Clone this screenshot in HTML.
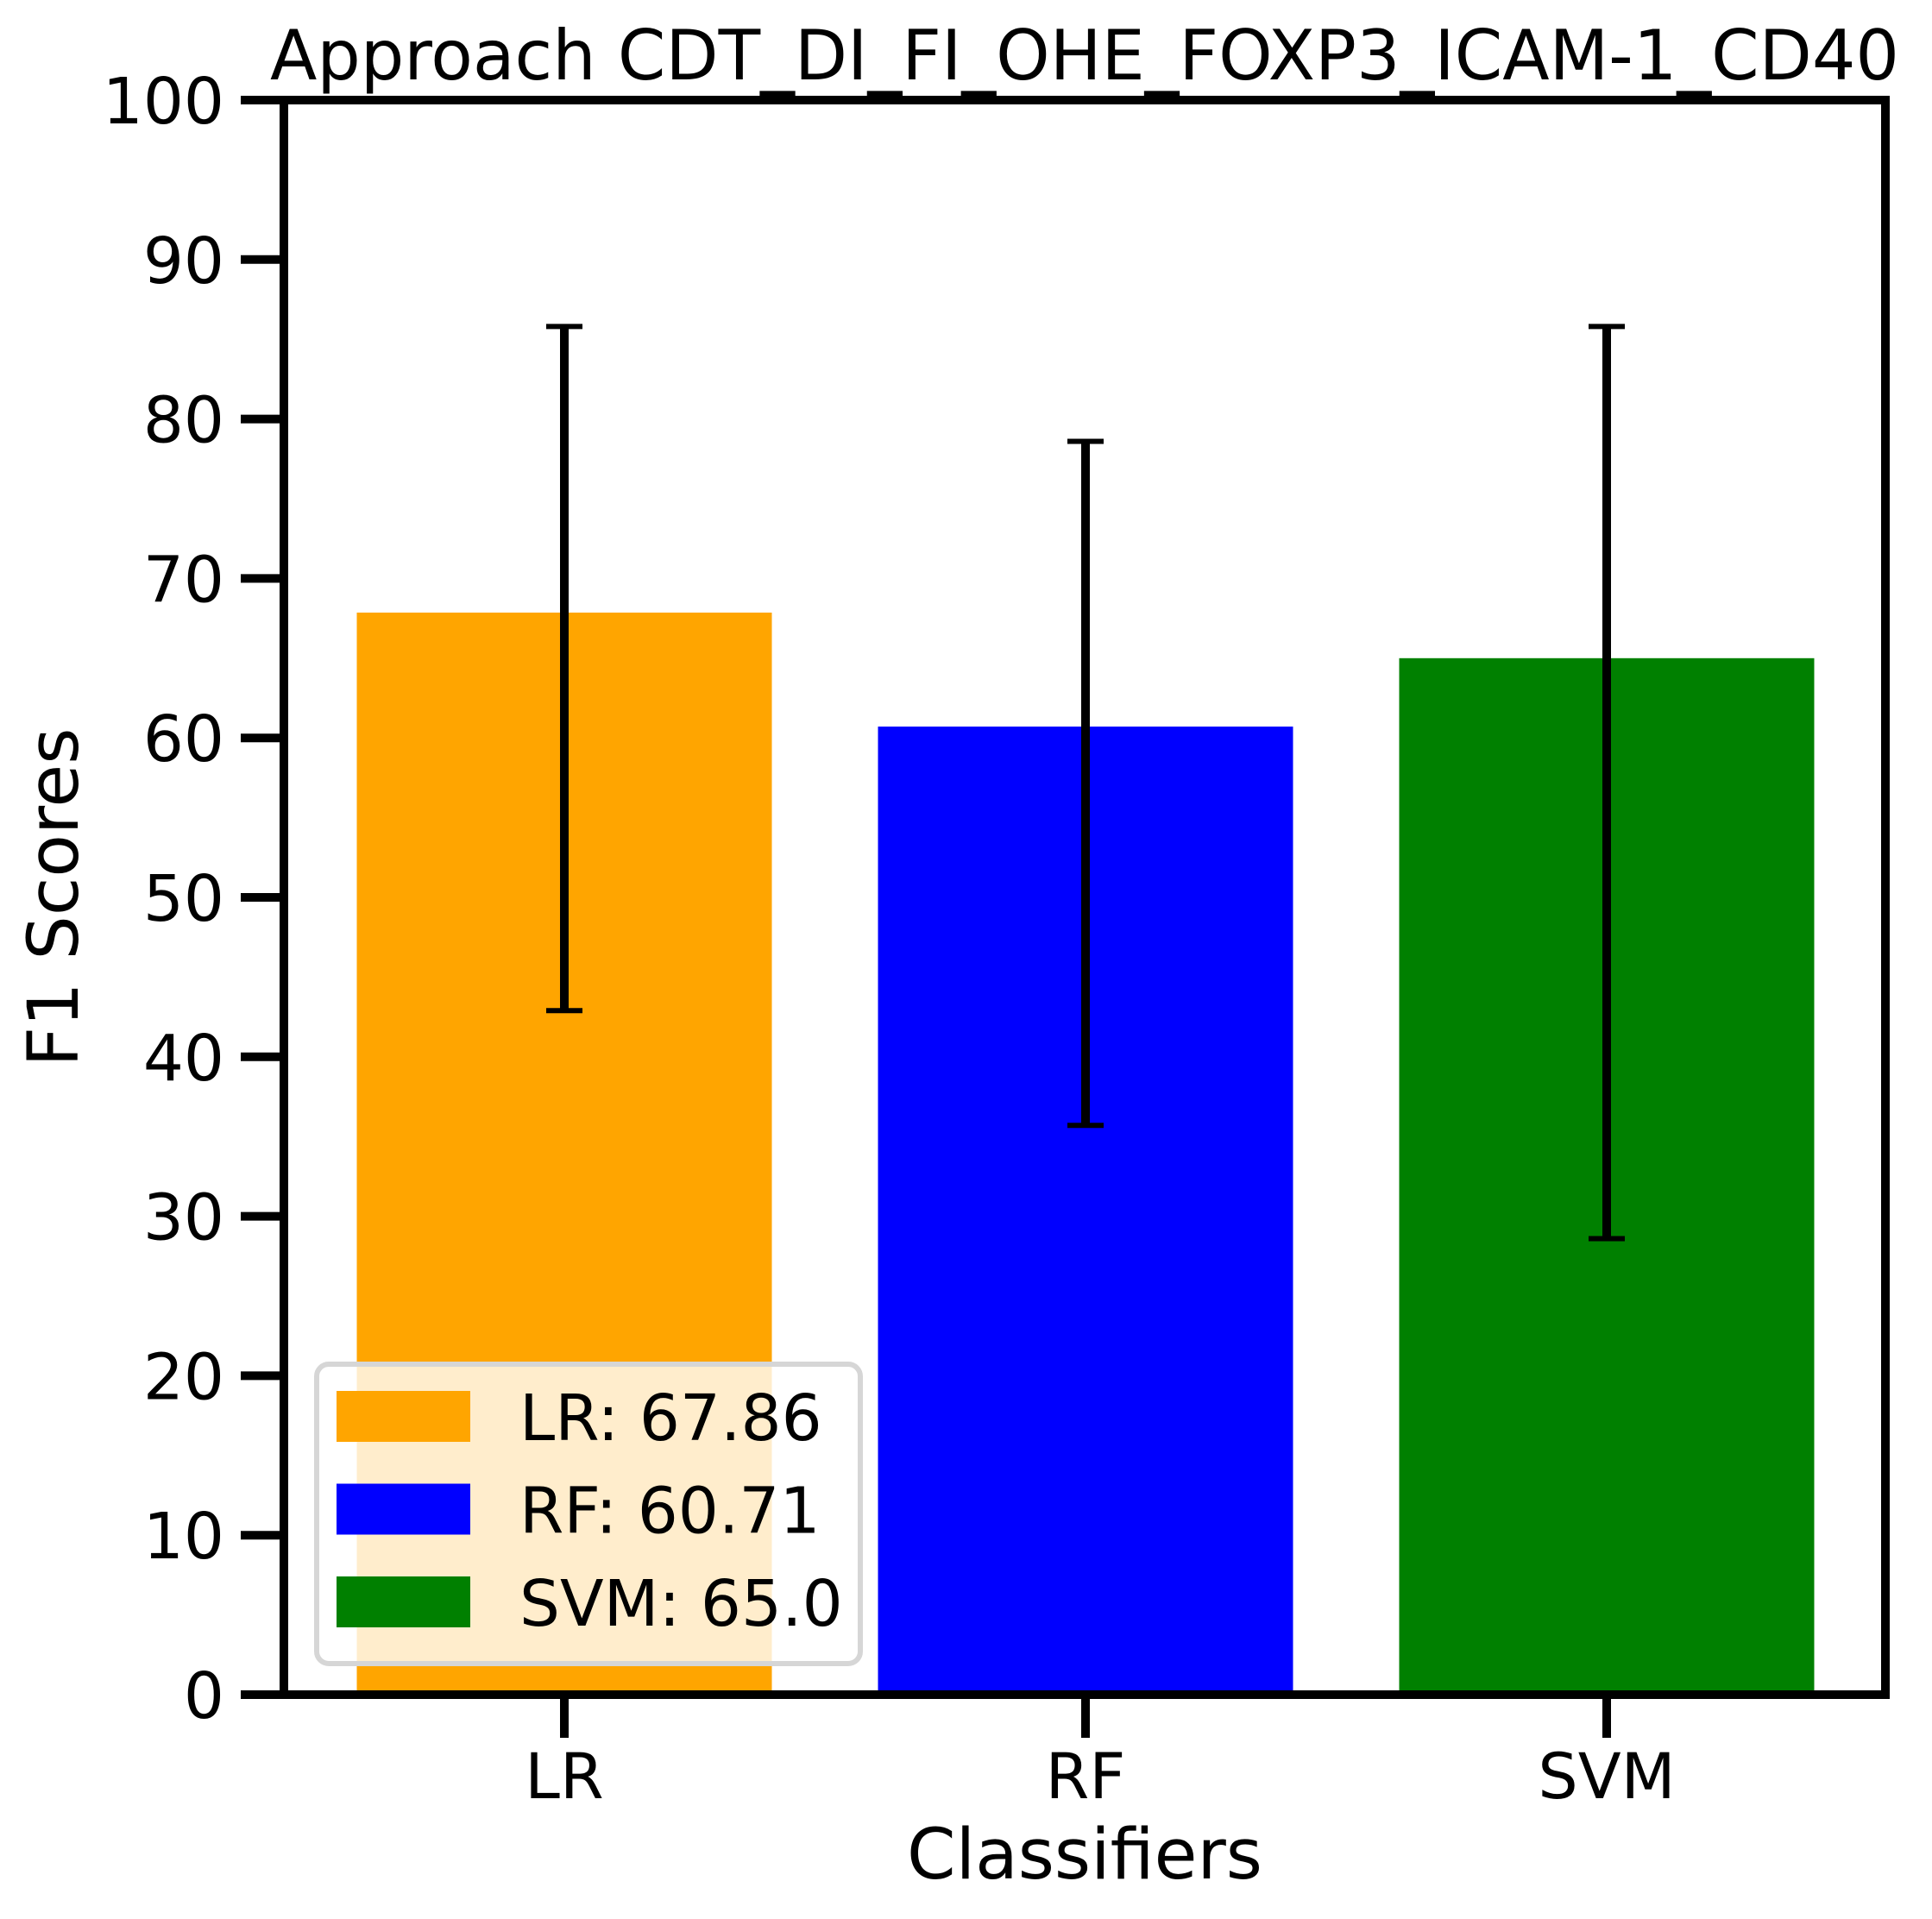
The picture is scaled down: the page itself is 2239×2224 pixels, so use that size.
<!DOCTYPE html>
<html><head><meta charset="utf-8"><style>html,body{margin:0;padding:0;background:#fff}svg{display:block}text{font-family:"DejaVu Sans","Liberation Sans",sans-serif;fill:#000}</style></head>
<body>
<svg id="chart" width="2239" height="2224" viewBox="0 0 2239 2224" xmlns="http://www.w3.org/2000/svg">
<rect width="2239" height="2224" fill="#fff"/>
<g id="bars"></g><g id="errs"></g><g id="axes"></g><g id="legend"></g>
<text x="1257" y="92" font-size="80" text-anchor="middle" textLength="1888" lengthAdjust="spacingAndGlyphs">Approach CDT_DI_FI_OHE_FOXP3_ICAM-1_CD40</text>
<text x="1257" y="2177" font-size="81" text-anchor="middle">Classifiers</text>
<text transform="translate(90,1040) rotate(-90)" font-size="81" text-anchor="middle">F1 Scores</text>
</svg>
<script>
const categories = ["LR", "RF", "SVM"];
const scores = [67.86, 60.71, 65.0];
const errLow = [42.9, 35.7, 28.6];
const errHigh = [85.8, 78.6, 85.8];
const colors = ["#ffa500", "#0000ff", "#008000"];
const yTicks = [0, 10, 20, 30, 40, 50, 60, 70, 80, 90, 100];
const legendLabels = ["LR: 67.86", "RF: 60.71", "SVM: 65.0"];

const NS = "http://www.w3.org/2000/svg";
const L = 329, R = 2185, T = 116, B = 1964;
const unitPx = 604, x0px = 654;
const xMin = -(x0px - L) / unitPx, xMax = (R - x0px) / unitPx, yMin = 0, yMax = 100;
const xs = v => L + (v - xMin) / (xMax - xMin) * (R - L);
const ys = v => B - (v - yMin) / (yMax - yMin) * (B - T);
const barW = 481 / unitPx;
function mk(tag, attrs, parent) {
  const e = document.createElementNS(NS, tag);
  for (const k in attrs) e.setAttribute(k, attrs[k]);
  parent.appendChild(e);
  return e;
}
const gb = document.getElementById('bars'), ge = document.getElementById('errs'),
      ga = document.getElementById('axes'), gl = document.getElementById('legend');
categories.forEach((c, i) => {
  const b = mk('rect', {x: xs(i - barW / 2), y: ys(scores[i]), width: xs(i + barW / 2) - xs(i - barW / 2), height: ys(0) - ys(scores[i]), fill: colors[i]}, gb);
  
  
  const g = mk('g', {stroke: '#000', 'stroke-width': 10}, ge);
  
  
  const cx = xs(i);
  mk('line', {x1: cx, x2: cx, y1: ys(errLow[i]), y2: ys(errHigh[i])}, g);
  mk('line', {x1: cx - 21, x2: cx + 21, y1: ys(errLow[i]), y2: ys(errLow[i]), 'stroke-width': 6}, g);
  mk('line', {x1: cx - 21, x2: cx + 21, y1: ys(errHigh[i]), y2: ys(errHigh[i]), 'stroke-width': 6}, g);
  const tk = mk('line', {x1: cx, x2: cx, y1: B, y2: B + 50, stroke: '#000', 'stroke-width': 10}, ga);
  
  
  const t = mk('text', {x: cx, y: 2084, 'font-size': 73, 'text-anchor': 'middle'}, ga);
  t.textContent = c;
  
  
});
yTicks.forEach(v => {
  const y = ys(v);
  const tk = mk('line', {x1: L - 50, x2: L, y1: y, y2: y, stroke: '#000', 'stroke-width': 10}, ga);
  
  
  const t = mk('text', {x: 260, y: y + 27, 'font-size': 74, 'text-anchor': 'end'}, ga);
  t.textContent = v;
  
  
});
const frame = mk('rect', {x: L, y: T, width: R - L, height: B - T, fill: 'none', stroke: '#000', 'stroke-width': 10}, ga);


const box = mk('rect', {x: 367, y: 1581, width: 630, height: 347, rx: 14, fill: 'rgba(255,255,255,0.8)', stroke: '#d6d6d6', 'stroke-width': 6}, gl);


legendLabels.forEach((lab, i) => {
  const y0 = 1612 + i * 107.5;
  const p = mk('rect', {x: 390, y: y0, width: 155, height: 59, fill: colors[i]}, gl);
  
  
  const t = mk('text', {x: 602, y: y0 + 57, 'font-size': 74}, gl);
  t.textContent = lab;
  
  
});
</script>
</body></html>
